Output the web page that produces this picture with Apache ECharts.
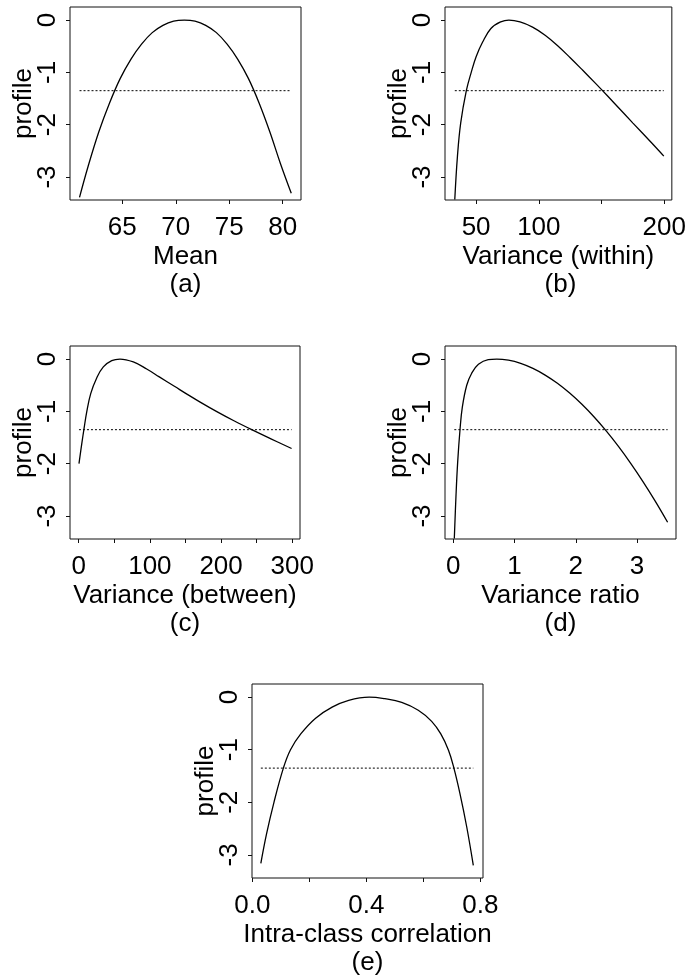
<!DOCTYPE html>
<html>
<head>
<meta charset="utf-8">
<title>profile</title>
<script src="https://cdn.jsdelivr.net/npm/echarts@6/dist/echarts.min.js"></script>
<style>
    html, body { margin: 0; padding: 0; background: #fff; }
    #chart-container { width: 689px; height: 978px; }
</style>
</head>
<body>
<div id="chart-container"></div>
<script>
// (a) mean
var meanX = [61.0, 61.8, 62.8, 63.8, 64.8, 65.8, 66.8, 67.8, 68.8, 69.8, 70.8, 71.8, 72.8, 73.8, 74.8, 75.8, 76.8, 77.8, 78.8, 79.8, 80.8];
var meanY = [-3.39, -2.80, -2.14, -1.59, -1.12, -0.75, -0.46, -0.24, -0.10, -0.02, 0, -0.02, -0.10, -0.24, -0.46, -0.75, -1.12, -1.59, -2.14, -2.75, -3.31];

// (b) variance within
var withinX = [33.0, 35.1, 37.7, 42.2, 46.1, 50.0, 55.2, 61.8, 69.6, 76.1, 85, 95, 105, 115, 125, 135, 145, 150, 160, 175, 190, 199.6];
var withinY = [-3.43, -2.61, -1.97, -1.35, -1.00, -0.70, -0.42, -0.16, -0.035, 0, -0.035, -0.135, -0.29, -0.49, -0.72, -0.96, -1.205, -1.33, -1.585, -1.97, -2.35, -2.60];

// (c) variance between
var betweenX = [0.4, 4.2, 7.5, 11.3, 16.9, 25.3, 34.6, 46.4, 58.0, 76.7, 95.5, 113.2, 135, 152, 170, 194, 218, 243, 270, 299];
var betweenY = [-2.00, -1.63, -1.33, -1.01, -0.66, -0.36, -0.15, -0.03, 0, -0.055, -0.19, -0.34, -0.525, -0.67, -0.818, -1.005, -1.18, -1.35, -1.525, -1.71];

// (d) variance ratio
var ratioX = [0.016, 0.044, 0.071, 0.109, 0.147, 0.219, 0.30, 0.41, 0.57, 0.71, 0.9, 1.1, 1.3, 1.5, 1.7, 1.9, 2.1, 2.3, 2.5, 2.7, 2.9, 3.1, 3.3, 3.5];
var ratioY = [-3.43, -2.60, -1.97, -1.35, -0.92, -0.50, -0.27, -0.10, -0.01, 0, -0.022, -0.083, -0.179, -0.306, -0.463, -0.650, -0.865, -1.108, -1.378, -1.674, -1.997, -2.346, -2.72, -3.12];

// (e) intra-class correlation
var iccX = [0.030, 0.050, 0.076, 0.109, 0.134, 0.170, 0.222, 0.280, 0.338, 0.410, 0.465, 0.524, 0.582, 0.629, 0.661, 0.688, 0.707, 0.728, 0.752, 0.775];
var iccY = [-3.16, -2.60, -2.00, -1.35, -1.00, -0.70, -0.40, -0.19, -0.06, 0, -0.03, -0.10, -0.25, -0.46, -0.70, -1.01, -1.35, -1.83, -2.47, -3.20];

var cutoff = -1.35;

var profileTicks = [-3, -2, -1, 0];
var meanTicks = [65, 70, 75, 80];
var withinTicks = [50, 100, 150, 200];
var withinLabels = [50, 100, 200];
var betweenTicks = [0, 50, 100, 150, 200, 250, 300];
var betweenLabels = [0, 100, 200, 300];
var ratioTicks = [0, 1, 2, 3];
var iccTicks = [0, 0.2, 0.4, 0.6, 0.8];
var iccLabels = [0, 0.4, 0.8];

(function(window, echarts) {
    'use strict';

    var FONT = '"Liberation Sans", Arial, Helvetica, sans-serif';
    var FS = 26;

    var panels = [
        {x: meanX, y: meanY, name: 'Mean', caption: '(a)', ticks: meanTicks, labels: meanTicks,
            min: 60.11, max: 81.71, grid: {left: 70, top: 7, width: 231, height: 193}},
        {x: withinX, y: withinY, name: 'Variance (within)', caption: '(b)', ticks: withinTicks, labels: withinLabels,
            min: 25.2, max: 206, grid: {left: 445, top: 7, width: 231, height: 193}},
        {x: betweenX, y: betweenY, name: 'Variance (between)', caption: '(c)', ticks: betweenTicks, labels: betweenLabels,
            min: -12.2, max: 310.8, grid: {left: 70, top: 346, width: 230, height: 193}},
        {x: ratioX, y: ratioY, name: 'Variance ratio', caption: '(d)', ticks: ratioTicks, labels: ratioTicks,
            min: -0.136, max: 3.637, grid: {left: 445, top: 346, width: 231, height: 193}},
        {x: iccX, y: iccY, name: 'Intra-class correlation', caption: '(e)', ticks: iccTicks, labels: iccLabels,
            min: -0.001, max: 0.809, grid: {left: 252, top: 684, width: 231, height: 194},
            fmt: function(v) { return v.toFixed(1); }}
    ];

    var grids = [], xAxes = [], yAxes = [], series = [], graphics = [];

    panels.forEach(function(p, i) {
        grids.push({
            left: p.grid.left, top: p.grid.top, width: p.grid.width, height: p.grid.height,
            show: true, borderColor: '#111', borderWidth: 1, containLabel: false
        });

        xAxes.push({
            type: 'value', gridIndex: i, min: p.min, max: p.max,
            name: p.name, nameLocation: 'middle', nameGap: 44,
            nameTextStyle: {fontSize: FS, color: '#000', fontFamily: FONT},
            axisLine: {show: false, onZero: false},
            axisTick: {show: true, inside: false, customValues: p.ticks, length: 4, lineStyle: {color: '#111'}},
            axisLabel: {customValues: p.labels, margin: 15, fontSize: FS, color: '#000', fontFamily: FONT,
                formatter: p.fmt || function(v) { return String(v); }},
            splitLine: {show: false}
        });

        yAxes.push({
            type: 'value', gridIndex: i, min: -3.44, max: 0.25,
            name: 'profile', nameLocation: 'middle', nameGap: 33, nameRotate: 90, nameMoveOverlap: false,
            nameTextStyle: {fontSize: FS, color: '#000', fontFamily: FONT},
            axisLine: {show: false, onZero: false},
            axisTick: {show: true, inside: false, customValues: profileTicks, length: 4, lineStyle: {color: '#111'}},
            axisLabel: {customValues: profileTicks, rotate: 90, margin: 9, fontSize: FS, color: '#000', fontFamily: FONT},
            splitLine: {show: false}
        });

        series.push({
            type: 'line', xAxisIndex: i, yAxisIndex: i,
            data: p.x.map(function(v, k) { return [v, p.y[k]]; }),
            smooth: 0.4, showSymbol: false, silent: true,
            lineStyle: {color: '#000', width: 1.3}
        });

        // dotted cut-off line
        series.push({
            type: 'line', xAxisIndex: i, yAxisIndex: i,
            data: [[p.x[0], cutoff], [p.x[p.x.length - 1], cutoff]],
            showSymbol: false, silent: true,
            lineStyle: {color: '#000', width: 1, type: [2, 2]}
        });

        graphics.push({
            type: 'text',
            x: p.grid.left + p.grid.width / 2,
            y: p.grid.top + p.grid.height + 85,
            style: {text: p.caption, fontSize: FS, fontFamily: FONT, fill: '#000',
                align: 'center', verticalAlign: 'middle'}
        });
    });

    var chart = echarts.init(document.getElementById('chart-container'));
    chart.setOption({
        animation: false,
        backgroundColor: '#fff',
        textStyle: {fontFamily: FONT},
        grid: grids,
        xAxis: xAxes,
        yAxis: yAxes,
        series: series,
        graphic: graphics
    });

})(window, window.echarts);
</script>
</body>
</html>
